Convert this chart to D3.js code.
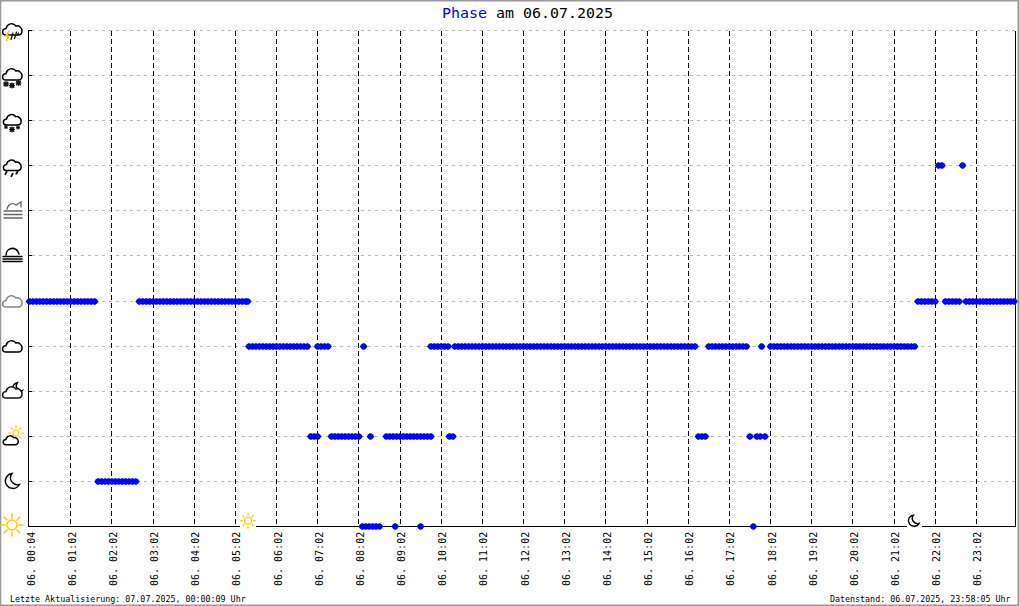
<!DOCTYPE html>
<html><head><meta charset="utf-8">
<script src="https://cdn.jsdelivr.net/npm/d3@7"></script>
<style>
html,body{margin:0;padding:0;background:#fff}
svg{display:block}
text{font-family:"DejaVu Sans Mono","Liberation Mono",monospace;fill:#000}
</style></head><body><svg id="c" width="1020" height="606"></svg>
<script>
// Minutes after 00:02 of each reading, per weather phase
const phases = ["Sonne","Mond","Sonne/Wolken","Mond/Wolken","Wolken","Bedeckt","Nebel","Dunst","Regen","Schnee","Schneeschauer","Gewitter"];
const sunMinutes = [485,490,495,500,505,510,533,570,1055];
const moonMinutes = [100,105,110,115,120,125,130,135,140,145,150,155];
const partlyMinutes = [410,415,420,440,445,450,455,460,465,470,475,480,497,520,525,530,535,540,545,550,555,560,565,570,575,580,585,612,617,975,980,985,1050,1060,1065,1072];
const cloudMinutes = [320,325,330,335,340,345,350,355,360,365,370,375,380,385,390,395,400,405,420,425,430,435,487,585,590,595,600,605,610,620,625,630,635,640,645,650,655,660,665,670,675,680,685,690,695,700,705,710,715,720,725,730,735,740,745,750,755,760,765,770,775,780,785,790,795,800,805,810,815,820,825,830,835,840,845,850,855,860,865,870,875,880,885,890,895,900,905,910,915,920,925,930,935,940,945,950,955,960,965,970,990,995,1000,1005,1010,1015,1020,1025,1030,1035,1040,1045,1067,1080,1085,1090,1095,1100,1105,1110,1115,1120,1125,1130,1135,1140,1145,1150,1155,1160,1165,1170,1175,1180,1185,1190,1195,1200,1205,1210,1215,1220,1225,1230,1235,1240,1245,1250,1255,1260,1265,1270,1275,1280,1285,1290];
const overcastMinutes = [0,5,10,15,20,25,30,35,40,45,50,55,60,65,70,75,80,85,90,95,160,165,170,175,180,185,190,195,200,205,210,215,220,225,230,235,240,245,250,255,260,265,270,275,280,285,290,295,300,305,310,315,318,1295,1300,1305,1310,1315,1320,1335,1340,1345,1350,1355,1365,1370,1375,1380,1385,1390,1395,1400,1405,1410,1415,1420,1425,1430,1435];
const rainMinutes = [1325,1330,1360];
const seriesByPhase = [sunMinutes,moonMinutes,partlyMinutes,[],cloudMinutes,overcastMinutes,[],[],rainMinutes,[],[],[]];
const tickMinutes = [0,60,120,180,240,300,360,420,480,540,600,660,720,780,840,900,960,1020,1080,1140,1200,1260,1320,1380];
const tickLabels = ["06. 00:04","06. 01:02","06. 02:02","06. 03:02","06. 04:02","06. 05:02","06. 06:02","06. 07:02","06. 08:02","06. 09:02","06. 10:02","06. 11:02","06. 12:02","06. 13:02","06. 14:02","06. 15:02","06. 16:02","06. 17:02","06. 18:02","06. 19:02","06. 20:02","06. 21:02","06. 22:02","06. 23:02"];
const sunriseMinute = 320, sunsetMinute = 1285;

const svg = d3.select("#c");
const x = d3.scaleLinear().domain([0,1440]).range([29.5,1017.5]);
const y = d3.scalePoint().domain(phases).range([526.5,30.5]);
const X0=28.5, X1=1015.5, Y0=30.5, Y1=526.5;
const gy = d => Math.floor(y(d))+.5;

// frame
svg.append("path").attr("d","M0.5,605 V0.75 H1019").attr("fill","none").attr("stroke","#999").attr("stroke-width",1.5);
svg.append("path").attr("d","M1018.5,0 V605.5 H0").attr("fill","none").attr("stroke","#999").attr("stroke-width",2);

const crisp = g => g.attr("shape-rendering","crispEdges");

// horizontal grid
svg.append("g").call(crisp).selectAll("line").data(phases.slice(1)).join("line")
  .attr("x1",32).attr("x2",X1).attr("y1",gy).attr("y2",gy)
  .attr("stroke","#bbb").attr("stroke-dasharray","3,4");
// vertical grid
svg.append("g").call(crisp).selectAll("line").data(tickMinutes.slice(1)).join("line")
  .attr("x1",d=>Math.floor(x(d))+.5).attr("x2",d=>Math.floor(x(d))+.5).attr("y1",Y0).attr("y2",Y1)
  .attr("stroke","#000").attr("stroke-dasharray","5,3");
// axis frame
svg.append("g").call(crisp).selectAll("path").data([`M${X0},${Y0} V${Y1} H${X1} V${Y0}`]).join("path")
  .attr("d",d=>d).attr("fill","none").attr("stroke","#000");
svg.append("g").call(crisp).selectAll("line").data(phases.slice(1)).join("line")
  .attr("x1",28).attr("x2",32).attr("y1",gy).attr("y2",gy).attr("stroke","#000");

// points: pixel-style diamond marker, radius taken from the symbol size
const marker = {draw(c,s){const r=Math.sqrt(s)/2;
  c.moveTo(-r,0);c.lineTo(-r*.55,-r*.55);c.lineTo(-r*.2,-r*.85);c.lineTo(r*.2,-r*.85);c.lineTo(r*.55,-r*.55);c.lineTo(r,0);
  c.lineTo(r*.55,r*.55);c.lineTo(r*.2,r*.85);c.lineTo(-r*.2,r*.85);c.lineTo(-r*.55,r*.55);c.closePath();}};
const pts = svg.append("g").attr("fill","#0000ff");
phases.forEach((p,i)=>{
  pts.selectAll(null).data(seriesByPhase[i]).join("path")
    .attr("d",d3.symbol(marker,60))
    .attr("transform",d=>`translate(${x(d)},${gy(p)})`);
});

// x labels
svg.append("g").selectAll("text").data(tickLabels).join("text")
  .attr("transform",(d,i)=>`translate(${x(tickMinutes[i])+5},586) rotate(-90)`)
  .attr("font-size",10).text(d=>d);

// titles
const t = svg.append("text").attr("x",442).attr("y",18).attr("font-size",14).attr("textLength",171).attr("lengthAdjust","spacingAndGlyphs");
t.append("tspan").style("fill","#0000ff").text("Phase");
t.append("tspan").text(" am 06.07.2025");
svg.append("text").attr("x",10).attr("y",601.5).attr("font-size",8.33).text("Letzte Aktualisierung: 07.07.2025, 00:00:09 Uhr");
svg.append("text").attr("x",830).attr("y",601.5).attr("font-size",8.33).text("Datenstand: 06.07.2025, 23:58:05 Uhr");

// icons
const cloudD = "M-6,6 C-10.5,6 -10.5,0 -6,-.5 C-5,-5.5 1,-7 4,-3 C7,-4 10,-1 10,2 C10,5 8,6 6,6 Z";
function g(cx,cy,s=1){return svg.append("g").attr("transform",`translate(${cx},${cy}) scale(${s})`).attr("fill","none").attr("stroke-linecap","round");}
function cloud(cx,cy,col="#000",s=1){return g(cx,cy,s).call(e=>e.append("path").attr("d",cloudD).attr("stroke",col).attr("stroke-width",1.5/s).attr("fill","#fff"));}
function flake(cx,cy,r=2){const e=g(cx,cy);["M-1,0H1","M0,-1V1","M-.8,-.8L.8,.8","M-.8,.8L.8,-.8"].forEach(d=>e.append("path").attr("d",d).attr("transform",`scale(${r})`).attr("stroke","#111").attr("stroke-width",.7));}
function sun(cx,cy,r,ray,col="#ffcc00",sw=1.3){
  const e=g(cx,cy);
  e.append("circle").attr("r",r).attr("stroke",col).attr("stroke-width",sw).attr("fill","#fff");
  d3.range(8).forEach(i=>{const a=i*Math.PI/4;e.append("line").attr("x1",(r+2)*Math.cos(a)).attr("y1",(r+2)*Math.sin(a)).attr("x2",(r+ray)*Math.cos(a)).attr("y2",(r+ray)*Math.sin(a)).attr("stroke",col).attr("stroke-width",sw);});
}
function moon(cx,cy,s=1){g(cx,cy,s).append("path").attr("d","M-1,-7.5 A7.5,7.5 0 1,0 6.5,3.5 A7,7 0 0,1 -1,-7.5 Z").attr("stroke","#000").attr("stroke-width",1.4/s).attr("fill","#fff");}

// sun row
sun(12,525,5,6,"#ffcc00",1.6);
// moon row
moon(13,481);
// sun + cloud
sun(16,433,3,4.5,"#ffcc00",1.1);
cloud(10.5,440,"#000",.78);
// moon + cloud
moon(18,388,.7);
cloud(12,392,"#111",1);
// cloud, overcast
cloud(12,346);
cloud(12,301,"#888");
// fog
{const e=g(12,255);e.append("path").attr("d","M-6,0 C-6,-7 4,-10 7,-1").attr("stroke","#000").attr("stroke-width",1.5);
 [1.5,4,6.5].forEach(d=>e.append("line").attr("x1",-9).attr("x2",10).attr("y1",d).attr("y2",d).attr("stroke","#000").attr("stroke-width",1.6));}
// haze
{const e=g(12,210);e.append("path").attr("d","M-5,-1 C-4,-6 1,-8 4,-5 L9,-8 L9,-3").attr("stroke","#666").attr("stroke-width",1.3);
 [1,4.5,8].forEach(d=>e.append("line").attr("x1",-8).attr("x2",10).attr("y1",d).attr("y2",d).attr("stroke","#666").attr("stroke-width",1.3));}
// rain
cloud(12,165,"#000",.92);
[[6,173],[12,175],[17,172.5]].forEach(([a,b])=>g(a,b).append("line").attr("x1",-.7).attr("y1",1.2).attr("x2",.7).attr("y2",-1.2).attr("stroke","#111").attr("stroke-width",1.8));
// snow
cloud(12,119.5,"#000",.92);
[[6,127,1.5],[12,129.5,2.2],[18,127.5,1.5]].forEach(a=>flake(...a));
// heavy snow
cloud(12,74,"#000",1);
[[6,84,2.2],[12,85.5,2.2],[18.5,83,2.2]].forEach(a=>flake(...a));
// thunderstorm
cloud(12,29,"#000",1);
g(7.5,36).append("path").attr("d","M1.5,-4.5 L-1.5,0 L1,0 L-1,4.5").attr("stroke","#ffcc00").attr("stroke-width",1.7);
[[12,36],[15.5,35]].forEach(([a,b])=>g(a,b).append("line").attr("x1",-1).attr("y1",3.5).attr("x2",1).attr("y2",-3).attr("stroke","#111").attr("stroke-width",1.3));
g(18,34).append("line").attr("x1",-.5).attr("y1",1).attr("x2",.5).attr("y2",-1).attr("stroke","#111").attr("stroke-width",1.3);

// sunrise / sunset markers
svg.append("rect").attr("x",240).attr("y",512).attr("width",16).attr("height",16).attr("fill","#fff");
sun(x(sunriseMinute)-1,520.7,3.5,4,"#ffcc00",1.3);
svg.append("rect").attr("x",907).attr("y",512).attr("width",15).attr("height",16).attr("fill","#fff");
moon(x(sunsetMinute)+3,520.7,.75);
</script></body></html>
